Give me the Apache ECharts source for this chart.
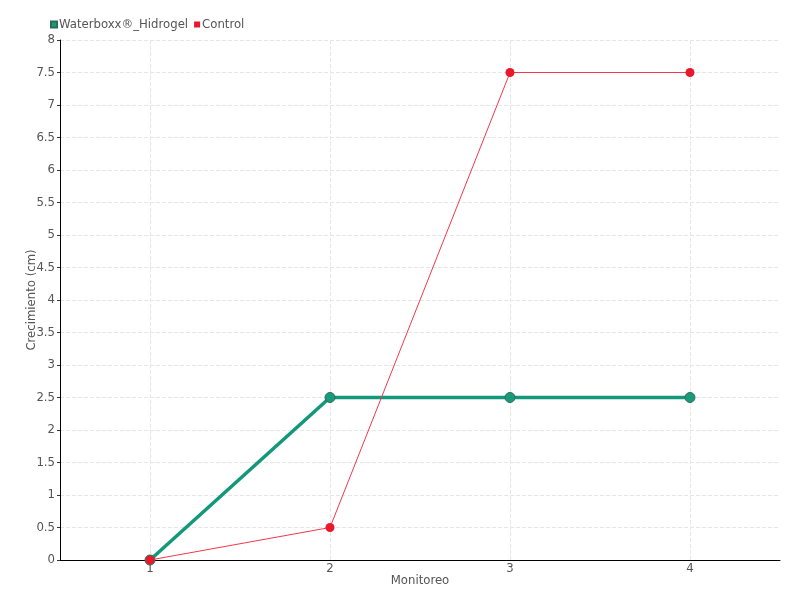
<!DOCTYPE html>
<html><head><meta charset="utf-8">
<script src="https://cdn.jsdelivr.net/npm/echarts@6/dist/echarts.min.js"></script>
<style>html,body{margin:0;padding:0;background:#fff}#c{width:800px;height:600px}</style>
</head><body><div id="c"></div>
<script>
const categories = ['1', '2', '3', '4'];
const waterboxx = [0, 2.5, 2.5, 2.5];
const control = [0, 0.5, 7.5, 7.5];
const seriesNames = ['Waterboxx®_Hidrogel', 'Control'];
const font = '"DejaVu Sans Condensed", "Liberation Sans Narrow", sans-serif';
const chart = echarts.init(document.getElementById('c'));
chart.setOption({
  backgroundColor: '#fff',
  textStyle: { fontFamily: font },
  legend: {
    left: 45, top: 13, itemWidth: 6, itemHeight: 6, itemGap: 6,
    icon: 'rect',
    textStyle: { fontFamily: font, fontSize: 13, color: '#555', padding: [0,0,0,-3] },
    data: seriesNames
  },
  grid: { left: 60, right: 20, top: 40, bottom: 40 },
  xAxis: {
    type: 'category', data: categories, boundaryGap: true,
    name: 'Monitoreo', nameLocation: 'middle', nameGap: 14, nameMoveOverlap: false,
    nameTextStyle: { fontFamily: font, fontSize: 13, color: '#555' },
    axisLine: { lineStyle: { color: '#000', width: 1 } },
    axisTick: { show: false, alignWithLabel: true },
    axisLabel: { fontFamily: font, fontSize: 13, color: '#555', margin: 2 },
    splitLine: { show: true, interval: (i) => i < categories.length, alignWithLabel: true, lineStyle: { type: 'dashed', color: '#e6e6e6' } }
  },
  yAxis: {
    type: 'value', min: 0, max: 8, interval: 0.5,
    name: 'Crecimiento (cm)', nameLocation: 'middle', nameGap: 22, nameMoveOverlap: false,
    nameTextStyle: { fontFamily: font, fontSize: 13, color: '#555' },
    axisLine: { show: true, lineStyle: { color: '#000', width: 1 } },
    axisTick: { show: true, length: 3, lineStyle: { color: '#333' } },
    axisLabel: { fontFamily: font, fontSize: 13, color: '#555', margin: 5 },
    splitLine: { show: true, lineStyle: { type: 'dashed', color: '#e6e6e6' } }
  },
  series: [
    {
      name: seriesNames[0], type: 'line', data: waterboxx,
      color: '#16997a', symbol: 'circle', symbolSize: 10,
      lineStyle: { width: 3.5, color: '#13997a' },
      itemStyle: { color: '#1a9a7c', borderColor: '#2b6e55', borderWidth: 1 },
      z: 2
    },
    {
      name: seriesNames[1], type: 'line', data: control,
      color: '#ee1c2e', symbol: 'circle', symbolSize: 9,
      lineStyle: { width: 1, color: '#f0384a' },
      itemStyle: { color: '#e8192c' },
      z: 3
    }
  ],
  animation: false
});
</script></body></html>
